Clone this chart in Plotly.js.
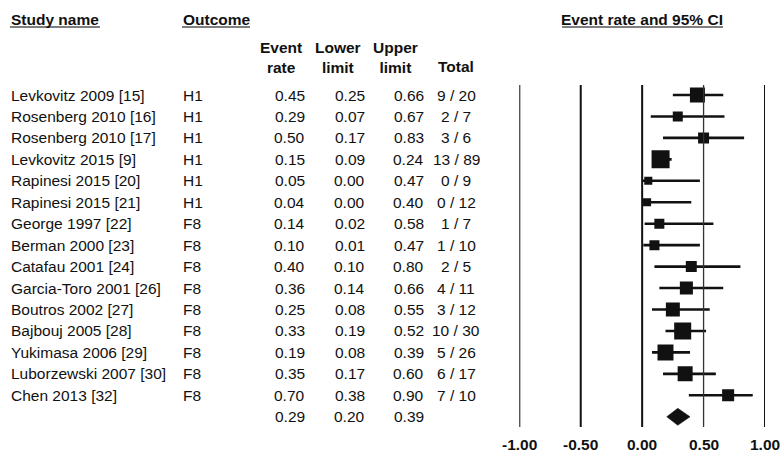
<!DOCTYPE html>
<html>
<head>
<meta charset="utf-8">
<script src="https://cdn.plot.ly/plotly-3.0.1.min.js"></script>
<style>
  html, body { margin: 0; padding: 0; background: #fff; }
  #chart { width: 784px; height: 452px; }
</style>
</head>
<body>
<div id="chart"></div>
<script>
// ---------------- data ----------------
const studies = [
  "Levkovitz 2009 [15]", "Rosenberg 2010 [16]", "Rosenberg 2010 [17]", "Levkovitz 2015 [9]",
  "Rapinesi 2015 [20]", "Rapinesi 2015 [21]", "George 1997 [22]", "Berman 2000 [23]",
  "Catafau 2001 [24]", "Garcia-Toro 2001 [26]", "Boutros 2002 [27]", "Bajbouj 2005 [28]",
  "Yukimasa 2006 [29]", "Luborzewski 2007 [30]", "Chen 2013 [32]"
];
const outcomes = ["H1","H1","H1","H1","H1","H1","F8","F8","F8","F8","F8","F8","F8","F8","F8"];
const eventRate  = [0.45, 0.29, 0.50, 0.15, 0.05, 0.04, 0.14, 0.10, 0.40, 0.36, 0.25, 0.33, 0.19, 0.35, 0.70];
const lowerLimit = [0.25, 0.07, 0.17, 0.09, 0.00, 0.00, 0.02, 0.01, 0.10, 0.14, 0.08, 0.19, 0.08, 0.17, 0.38];
const upperLimit = [0.66, 0.67, 0.83, 0.24, 0.47, 0.40, 0.58, 0.47, 0.80, 0.66, 0.55, 0.52, 0.39, 0.60, 0.90];
const events = [9, 2, 3, 13, 0, 0, 1, 1, 2, 4, 3, 10, 5, 6, 7];
const totals = [20, 7, 6, 89, 9, 12, 7, 10, 5, 11, 12, 30, 26, 17, 10];
// relative weights (%), read from the square areas
const weights = [9.0, 4.0, 4.8, 13.0, 2.6, 2.6, 4.0, 4.0, 4.8, 6.8, 7.8, 11.6, 10.2, 9.0, 5.8];
const summaryRate = 0.29, summaryLower = 0.20, summaryUpper = 0.39;
const axisTicks = [-1, -0.5, 0, 0.5, 1];
const tickLabels = ["-1.00", "-0.50", "0.00", "0.50", "1.00"];
const headerCols = ["Event<br>rate", "Lower<br>limit", "Upper<br>limit", "Total"];

// ---------------- layout helpers ----------------
const W = 784, H = 452;
const px = v => v / W;                // pixel x -> paper fraction
const rowTop = 95, rowH = 21.45;      // pixel centre of first row, row spacing
const yAt = pix => (pix - rowTop) / rowH;   // pixel y -> row coordinate
const FONT = "Liberation Sans, Arial, Helvetica, sans-serif";
const FS = 15.5;
const INK = "#111111";
const n = studies.length;
const rows = studies.map((_, i) => i);
const sumRow = n;

const txt = (text, x, y, anchor, bold) => ({
  text: bold ? "<b>" + text + "</b>" : text,
  xref: "paper", yref: "y", x: px(x), y: y,
  xanchor: anchor, yanchor: "middle", showarrow: false,
  align: "center", borderpad: 0,
  font: { family: FONT, size: FS, color: INK }
});

const annotations = [];
// top headers
annotations.push(txt("Study name", 10, yAt(19), "left", true));
annotations.push(txt("Outcome", 182, yAt(19), "left", true));
annotations.push(txt("Event rate and 95% CI", 642, yAt(19), "center", true));
// column headers
const headerX = [281, 338, 396, 456];
headerCols.forEach((h, k) => {
  annotations.push(txt(h, headerX[k], h.includes("<br>") ? yAt(57) : yAt(66), "center", true));
});
// rows
rows.forEach(i => {
  annotations.push(txt(studies[i], 10, i, "left"));
  annotations.push(txt(outcomes[i], 182, i, "left"));
  annotations.push(txt(eventRate[i].toFixed(2), 306, i, "right"));
  annotations.push(txt(lowerLimit[i].toFixed(2), 366, i, "right"));
  annotations.push(txt(upperLimit[i].toFixed(2), 425, i, "right"));
  annotations.push(txt(events[i] + " / " + totals[i], 456, i, "center"));
});
// summary row
annotations.push(txt(summaryRate.toFixed(2), 306, sumRow, "right"));
annotations.push(txt(summaryLower.toFixed(2), 366, sumRow, "right"));
annotations.push(txt(summaryUpper.toFixed(2), 425, sumRow, "right"));
// axis tick labels
axisTicks.forEach((t, k) => {
  annotations.push({
    text: "<b>" + tickLabels[k] + "</b>", xref: "x", yref: "y", x: t, y: yAt(444),
    xanchor: "center", yanchor: "middle", showarrow: false, borderpad: 0,
    font: { family: FONT, size: FS, color: INK }
  });
});

// shapes: vertical reference lines and header underlines
const shapes = axisTicks.map(t => ({
  type: "line", xref: "x", yref: "y", x0: t, x1: t, y0: yAt(85), y1: yAt(427),
  line: { color: t === 0.5 ? "#333333" : INK, width: t === 0.5 ? 1.3 : 2 }
}));
[[10, 100], [182, 250], [562, 723]].forEach(([a, b]) => {
  shapes.push({ type: "line", xref: "paper", yref: "y", x0: px(a), x1: px(b),
    y0: yAt(27), y1: yAt(27), line: { color: "#555555", width: 1.3 } });
});

// traces
const studyTrace = {
  type: "scatter", mode: "markers",
  x: eventRate, y: rows,
  marker: { symbol: "square", color: INK, opacity: 1,
            size: weights.map(w => 5 * Math.sqrt(w)), line: { width: 0 } },
  error_x: {
    type: "data", symmetric: false,
    array: upperLimit.map((u, i) => u - eventRate[i]),
    arrayminus: lowerLimit.map((l, i) => eventRate[i] - l),
    thickness: 2.6, width: 0, color: INK
  },
  hoverinfo: "skip", showlegend: false
};
const dh = 8.5 / rowH;
const diamondTrace = {
  type: "scatter", mode: "lines",
  x: [summaryLower, summaryRate, summaryUpper, summaryRate, summaryLower],
  y: [sumRow, sumRow - dh, sumRow, sumRow + dh, sumRow],
  fill: "toself", fillcolor: INK, line: { color: INK, width: 0.5 },
  hoverinfo: "skip", showlegend: false
};

const layout = {
  width: W, height: H,
  margin: { l: 0, r: 0, t: 0, b: 0, pad: 0 },
  paper_bgcolor: "#ffffff", plot_bgcolor: "#ffffff",
  xaxis: { domain: [px(519.3), px(765)], range: [-1, 1], visible: false, fixedrange: true },
  yaxis: { domain: [0, 1], range: [yAt(H), yAt(0)], visible: false, fixedrange: true },
  annotations: annotations,
  shapes: shapes,
  showlegend: false
};

Plotly.newPlot("chart", [studyTrace, diamondTrace], layout, { displayModeBar: false, staticPlot: true });
</script>
</body>
</html>
